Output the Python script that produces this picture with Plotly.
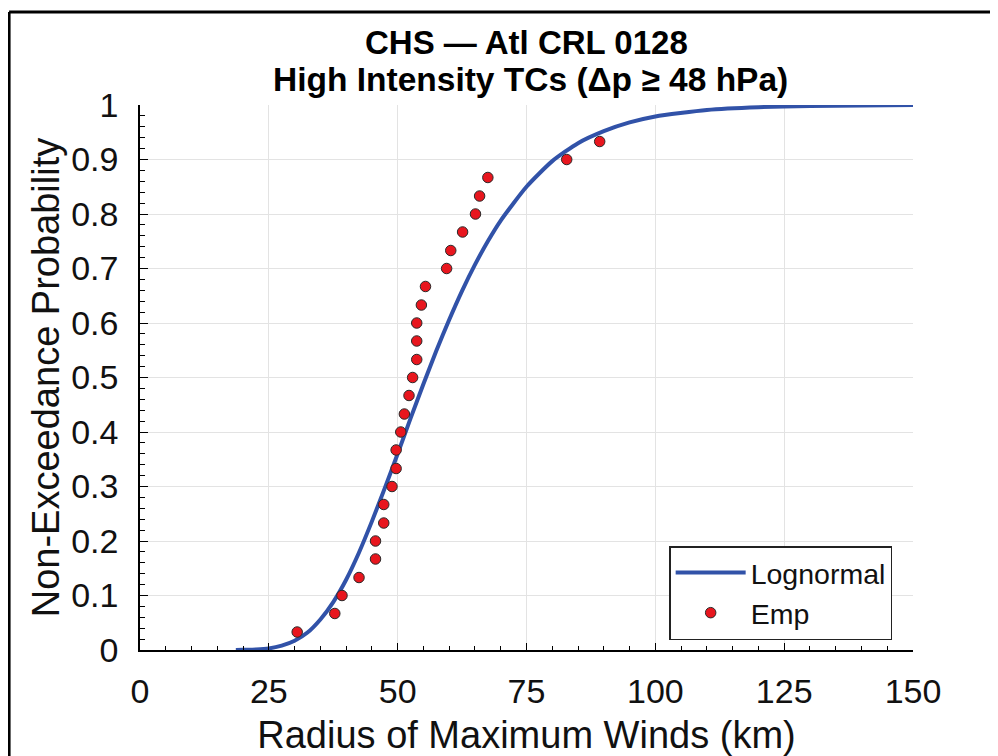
import plotly.graph_objects as go

emp_rmw = [30.5, 37.8, 39.2, 42.5, 45.7, 45.7, 47.3, 47.3, 48.9, 49.7,
           49.7, 50.6, 51.3, 52.2, 52.9, 53.7, 53.7, 53.7, 54.6, 55.4,
           59.5, 60.3, 62.6, 65.1, 65.9, 67.5, 82.8, 89.2]
emp_prob = [0.033, 0.067, 0.100, 0.133, 0.167, 0.200, 0.233, 0.267, 0.300, 0.333,
            0.367, 0.400, 0.433, 0.467, 0.500, 0.533, 0.567, 0.600, 0.633, 0.667,
            0.700, 0.733, 0.767, 0.800, 0.833, 0.867, 0.900, 0.933]

# Fitted lognormal curve
fit_rmw = [18.6, 20, 22.5, 25, 27.5, 30, 32.5, 35, 37.5, 40, 42.5, 45, 47.5, 50,
           52.5, 55, 57.5, 60, 62.5, 65, 67.5, 70, 75, 80, 85, 90, 95, 100,
           110, 120, 130, 140, 150]
fit_prob = [0.000, 0.0003, 0.001, 0.003, 0.008, 0.017, 0.032, 0.056, 0.088, 0.129,
            0.179, 0.236, 0.297, 0.360, 0.425, 0.488, 0.549, 0.606, 0.659, 0.707,
            0.750, 0.788, 0.850, 0.897, 0.930, 0.952, 0.968, 0.979, 0.991, 0.996,
            0.998, 0.999, 1.000]

x_ticks = [0, 25, 50, 75, 100, 125, 150]
y_ticks = [0, 0.1, 0.2, 0.3, 0.4, 0.5, 0.6, 0.7, 0.8, 0.9, 1]
y_tick_text = ["0", "0.1", "0.2", "0.3", "0.4", "0.5", "0.6", "0.7", "0.8", "0.9", "1"]

title_line1 = "CHS — Atl CRL 0128"
title_line2 = "High Intensity TCs (Δp ≥ 48 hPa)"

FONT = "Liberation Sans, Arial, Helvetica, sans-serif"

fig = go.Figure()
fig.add_trace(go.Scatter(
    x=fit_rmw, y=fit_prob, mode="lines", name="Lognormal",
    line=dict(color="#3152a8", width=4, shape="spline", smoothing=0.6),
))
fig.add_trace(go.Scatter(
    x=emp_rmw, y=emp_prob, mode="markers", name="Emp",
    marker=dict(color="#e8161e", size=10.5, line=dict(color="#2a2a2a", width=1)),
))

# The page body adds an 8px offset; work in page pixels and convert.
OFF = 8
W, H = 998 - OFF, 756 - OFF
PL, PR, PT, PB = 139.5, 913, 104.5, 650   # plot area in page pixels
L = PL - OFF
T = PT - OFF
R = W - (PR - OFF)
B = H - (PB - OFF)
pw = PR - PL
ph = PB - PT

def px_x(p):
    return (p - PL) / pw

def px_y(p):
    return (PB - p) / ph

fig.update_layout(
    width=W, height=H,
    margin=dict(l=L, r=R, t=T, b=B, pad=0, autoexpand=False),
    paper_bgcolor="white", plot_bgcolor="white",
    font=dict(family=FONT, color="black"),
    showlegend=True,
    legend=dict(
        x=px_x(669), y=px_y(546), xanchor="left", yanchor="top",
        bgcolor="white", bordercolor="#222", borderwidth=1.5,
        font=dict(size=28.5, family=FONT, color="#111"),
        itemwidth=70, tracegroupgap=0,
    ),
    xaxis=dict(
        range=[0, 150], tickvals=x_ticks, ticktext=[str(v) for v in x_ticks],
        showgrid=True, gridcolor="#e3e3e3", gridwidth=1,
        showline=True, linecolor="black", linewidth=1.5,
        ticks="inside", ticklen=7, tickwidth=1.2, tickcolor="black",
        minor=dict(dtick=5, ticks="inside", ticklen=4, tickwidth=1, tickcolor="black", showgrid=False),
        tickfont=dict(size=34, family=FONT, color="#111"),
        ticklabelstandoff=10,
        title=dict(text="Radius of Maximum Winds (km)", font=dict(size=38, family=FONT, color="#111"), standoff=16),
        zeroline=False, mirror=False, fixedrange=True, automargin=False,
    ),
    yaxis=dict(
        range=[0, 1], tickvals=y_ticks, ticktext=y_tick_text,
        showgrid=True, gridcolor="#e3e3e3", gridwidth=1,
        showline=True, linecolor="black", linewidth=1.5,
        ticks="inside", ticklen=8, tickwidth=1.2, tickcolor="black",
        minor=dict(dtick=0.02, ticks="inside", ticklen=5, tickwidth=1, tickcolor="black", showgrid=False),
        tickfont=dict(size=34, family=FONT, color="#111"),
        ticklabelstandoff=13,
        title=dict(text="Non-Exceedance Probability", font=dict(size=38, family=FONT, color="#111"), standoff=0),
        zeroline=False, mirror=False, fixedrange=True, automargin=False,
    ),
    annotations=[
        dict(text="<b>" + title_line1 + "</b>", x=0.5, y=px_y(42), xref="paper", yref="paper",
             xanchor="center", yanchor="middle", showarrow=False,
             font=dict(size=33, family=FONT, color="black")),
        dict(text="<b>" + title_line2 + "</b>", x=px_x(530), y=px_y(79), xref="paper", yref="paper",
             xanchor="center", yanchor="middle", showarrow=False,
             font=dict(size=33.5, family=FONT, color="black")),
    ],
    shapes=[
        dict(type="line", xref="paper", yref="paper", x0=px_x(8.5), x1=px_x(1010),
             y0=px_y(11.5), y1=px_y(11.5), line=dict(color="black", width=3)),
        dict(type="line", xref="paper", yref="paper", x0=px_x(8.5), x1=px_x(8.5),
             y0=px_y(11.5), y1=px_y(770), line=dict(color="black", width=3)),
    ],
)

fig.write_html("out.html")
